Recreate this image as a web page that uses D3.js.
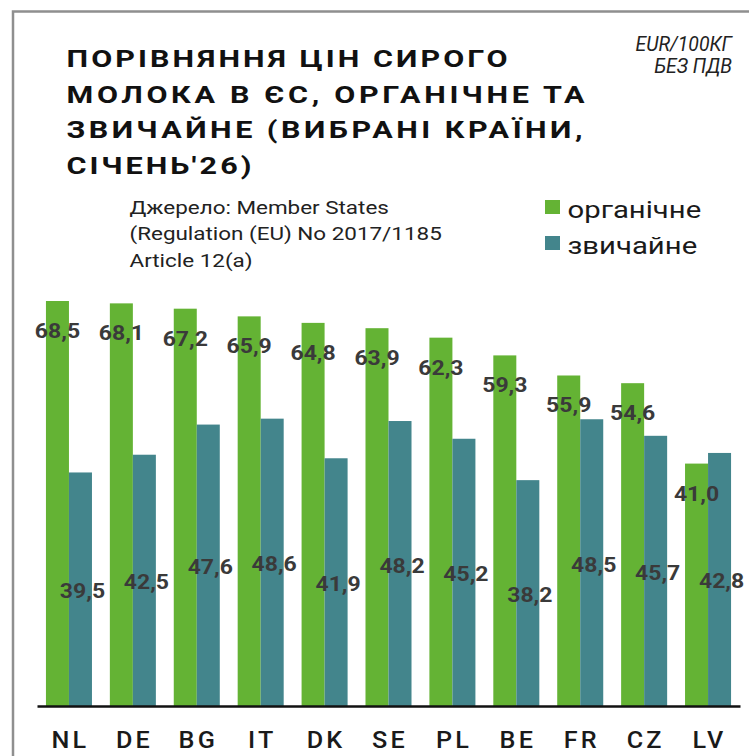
<!DOCTYPE html>
<html>
<head>
<meta charset="utf-8">
<script src="https://cdn.jsdelivr.net/npm/d3@7"></script>
<style>
  html, body { margin: 0; padding: 0; background: #fff; }
  svg { display: block; font-family: Roboto, "Noto Sans", sans-serif; }
</style>
</head>
<body>
<svg width="749" height="756"></svg>
<script>
var countries = ["NL", "DE", "BG", "IT", "DK", "SE", "PL", "BE", "FR", "CZ", "LV"];
var organic = [68.5, 68.1, 67.2, 65.9, 64.8, 63.9, 62.3, 59.3, 55.9, 54.6, 41.0];
var conventional = [39.5, 42.5, 47.6, 48.6, 41.9, 48.2, 45.2, 38.2, 48.5, 45.7, 42.8];
var seriesNames = ["органічне", "звичайне"];
var seriesKeys = ["organic", "conventional"];
var titleLines = ["ПОРІВНЯННЯ ЦІН СИРОГО", "МОЛОКА В ЄС, ОРГАНІЧНЕ ТА", "ЗВИЧАЙНЕ (ВИБРАНІ КРАЇНИ,", "СІЧЕНЬ'26)"];
var unitLines = ["EUR/100КГ", "БЕЗ ПДВ"];
var sourceLines = ["Джерело: Member States", "(Regulation (EU) No 2017/1185", "Article 12(a)"];

var svg = d3.select("svg"),
    width = +svg.attr("width"),
    height = +svg.attr("height");

var color = d3.scaleOrdinal().domain(seriesKeys).range(["#64b334", "#43858c"]);

var data = countries.map(function(c, i) {
    return { country: c, organic: organic[i], conventional: conventional[i] };
});

// text in the picture is a bit wider than Roboto, stretch it
function putText(g, x, y, sx, str) {
    return g.append("text")
        .attr("transform", "translate(" + x + "," + y + ") scale(" + sx + ",1)")
        .text(str);
}

// frame
svg.append("path")
    .attr("d", "M13," + height + "V11.5H" + width)
    .attr("fill", "none")
    .attr("stroke", "#8f8f8f")
    .attr("stroke-width", 2.5);

// title
var titleWidths = [441, 518, 516, 185];
var title = svg.append("g")
    .attr("font-weight", 700)
    .attr("font-size", 23.5)
    .attr("fill", "#111");
titleLines.forEach(function(t, i) {
    putText(title, 66.5, 67 + i * 35.5, 1.3, t)
        .attr("textLength", titleWidths[i] / 1.3)
        .attr("lengthAdjust", "spacing");
});

// units
var units = svg.append("g")
    .attr("font-style", "italic")
    .attr("font-size", 20)
    .attr("text-anchor", "end")
    .attr("fill", "#222");
unitLines.forEach(function(t, i) {
    putText(units, 732, 51 + i * 22, 0.97, t);
});

// source
var source = svg.append("g")
    .attr("font-size", 18.7)
    .attr("fill", "#222");
sourceLines.forEach(function(t, i) {
    putText(source, 129.5, 213.5 + i * 26.5, 1.2, t);
});

// legend
var legend = svg.append("g")
    .selectAll("g")
    .data(seriesKeys)
    .enter().append("g")
    .attr("transform", function(d, i) { return "translate(545," + (200 + i * 36) + ")"; });
legend.append("rect")
    .attr("width", 15)
    .attr("height", 14)
    .attr("fill", function(d) { return color(d); });
legend.each(function(d, i) {
    putText(d3.select(this), 22.5, 17.7, 1.22, seriesNames[i])
        .attr("font-size", 24)
        .attr("fill", "#1a1a1a");
});

// chart
var x0 = d3.scaleBand()
    .domain(countries)
    .range([37, 740])
    .paddingInner(0.28)
    .paddingOuter(0.14);

var x1 = d3.scaleBand()
    .domain(seriesKeys)
    .range([0, x0.bandwidth()]);

var y = d3.scaleLinear()
    .domain([0, 68.5])
    .range([706, 301]);

var groups = svg.append("g")
    .selectAll("g")
    .data(data)
    .enter().append("g")
    .attr("transform", function(d) { return "translate(" + x0(d.country) + ",0)"; });

groups.selectAll("rect")
    .data(function(d) { return seriesKeys.map(function(k) { return { key: k, value: d[k] }; }); })
    .enter().append("rect")
    .attr("x", function(d) { return x1(d.key); })
    .attr("y", function(d) { return y(d.value); })
    .attr("width", x1.bandwidth())
    .attr("height", function(d) { return y(0) - y(d.value); })
    .attr("fill", function(d) { return color(d.key); });

function fmt(v) { return v.toFixed(1).replace(".", ","); }

// value labels
groups.each(function(d) {
    var g = d3.select(this)
        .append("g")
        .attr("font-weight", 700)
        .attr("font-size", 20)
        .attr("text-anchor", "middle")
        .attr("fill", "#3a3a3a");
    putText(g, x1("organic") + x1.bandwidth() / 2, y(d.organic) + 37, 1.15, fmt(d.organic));
    putText(g, x1("conventional") + x1.bandwidth() / 2 + 2, y(d.conventional / 2) + 9, 1.15, fmt(d.conventional));
});

// x axis
var xAxis = svg.append("g")
    .attr("transform", "translate(0,706)")
    .call(d3.axisBottom(x0).tickSize(0).tickPadding(0));
xAxis.select(".domain")
    .attr("stroke", "#111")
    .attr("stroke-width", 2.5);
xAxis.selectAll(".tick text")
    .attr("font-family", "Roboto, sans-serif")
    .attr("font-size", 24)
    .attr("font-weight", 500)
    .attr("letter-spacing", 3)
    .attr("fill", "#1a1a1a")
    .attr("dy", 0)
    .attr("y", 0)
    .attr("transform", "translate(1.5,42) scale(1.05,1)");
</script>
</body>
</html>
